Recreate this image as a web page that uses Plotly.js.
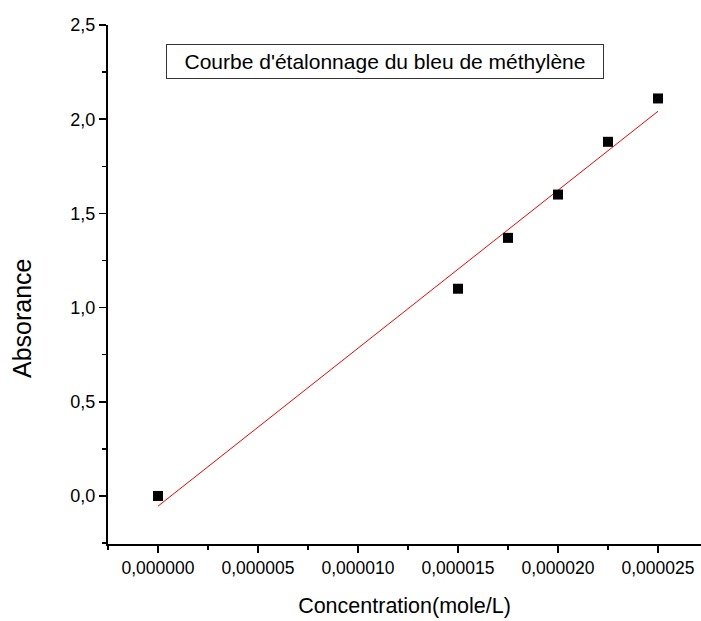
<!DOCTYPE html>
<html>
<head>
<meta charset="utf-8">
<script src="https://cdn.plot.ly/plotly-3.0.1.min.js"></script>
<style>html,body{margin:0;padding:0;background:#fff;}#chart{width:701px;height:621px;}</style>
</head>
<body>
<div id="chart"></div>
<script>
// Data
const concentration = [0, 0.000015, 0.0000175, 0.00002, 0.0000225, 0.000025];
const absorbance = [0.0, 1.10, 1.37, 1.60, 1.88, 2.11];
const chartTitle = "Courbe d'étalonnage du bleu de méthylène";
const xLabel = "Concentration(mole/L)";
const yLabel = "Absorance";

// Linear least-squares fit (drawn as the red line)
const n = concentration.length;
const mx = concentration.reduce((a, b) => a + b, 0) / n;
const my = absorbance.reduce((a, b) => a + b, 0) / n;
let sxx = 0, sxy = 0;
for (let i = 0; i < n; i++) {
  sxx += (concentration[i] - mx) ** 2;
  sxy += (concentration[i] - mx) * (absorbance[i] - my);
}
const slope = sxy / sxx;
const intercept = my - slope * mx;
const fitX = [Math.min(...concentration), Math.max(...concentration)];
const fitY = fitX.map(x => intercept + slope * x);

const font = "Liberation Sans, Arial, sans-serif";

const traces = [
  {
    x: fitX, y: fitY, type: 'scatter', mode: 'lines',
    line: {color: '#ff0000', width: 1}, hoverinfo: 'skip'
  },
  {
    x: concentration, y: absorbance, type: 'scatter', mode: 'markers',
    marker: {symbol: 'square', size: 10, color: '#000000'}
  }
];

const layout = {
  width: 701, height: 621,
  margin: {l: 108, r: 0, t: 25, b: 77},
  paper_bgcolor: '#ffffff', plot_bgcolor: '#ffffff',
  showlegend: false,
  separators: ', ',
  font: {family: font, size: 18, color: '#000'},
  xaxis: {
    range: [-0.0000025, 0.00002715],
    tick0: 0, dtick: 0.000005, tickformat: '.6f',
    ticks: 'outside', ticklen: 7, tickwidth: 1.5, tickcolor: '#000',
    minor: {ticks: 'outside', ticklen: 4, tickwidth: 1.5, tickcolor: '#000', dtick: 0.0000025, tick0: 0},
    showline: true, linecolor: '#000', linewidth: 2,
    showgrid: false, zeroline: false,
    tickfont: {family: font, size: 17.5, color: '#000'},
    title: {text: xLabel, font: {family: font, size: 21.5, color: '#000'}, standoff: 21}
  },
  yaxis: {
    range: [-0.255, 2.5],
    tick0: 0, dtick: 0.5, tickformat: '.1f',
    ticks: 'outside', ticklen: 7, tickwidth: 1.5, tickcolor: '#000',
    minor: {ticks: 'outside', ticklen: 4, tickwidth: 1.5, tickcolor: '#000', dtick: 0.25, tick0: 0},
    showline: true, linecolor: '#000', linewidth: 2,
    showgrid: false, zeroline: false,
    tickfont: {family: font, size: 18, color: '#000'}
  },
  annotations: [{
    text: chartTitle, xref: 'paper', yref: 'paper',
    x: 0.467, y: 0.929, xanchor: 'center', yanchor: 'middle',
    showarrow: false,
    font: {family: font, size: 21, color: '#000'},
    bordercolor: '#333', borderwidth: 1, borderpad: 2,
    width: 432, height: 29, bgcolor: '#fff'
  }, {
    text: yLabel, xref: 'paper', yref: 'paper',
    x: (22 - 108) / 593, y: (544 - 318) / 519, xanchor: 'center', yanchor: 'middle',
    textangle: -90, showarrow: false,
    font: {family: font, size: 25, color: '#000'}
  }]
};

Plotly.newPlot('chart', traces, layout, {displayModeBar: false, staticPlot: true});
</script>
</body>
</html>
